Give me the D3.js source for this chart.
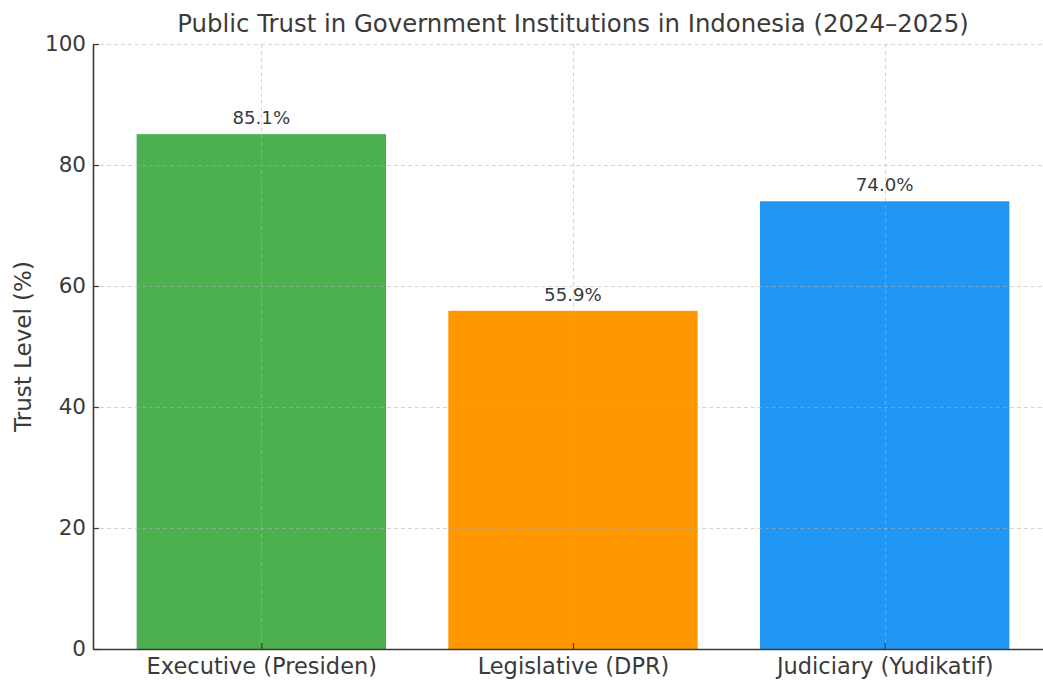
<!DOCTYPE html>
<html>
<head>
<meta charset="utf-8">
<script src="https://cdn.jsdelivr.net/npm/d3@7"></script>
<style>
  html, body { margin: 0; padding: 0; background: #fff; }
  svg { display: block; font-family: "DejaVu Sans", sans-serif; }
</style>
</head>
<body>
<svg id="chart" width="1043" height="680"></svg>
<script>
// Trust levels by branch of government
const categories = ["Executive (Presiden)", "Legislative (DPR)", "Judiciary (Yudikatif)"];
const trustValues = [85.1, 55.9, 74.0];
const barColors = ["#4caf50", "#ff9800", "#2196f3"];
const yTicks = [0, 20, 40, 60, 80, 100];

const svg = d3.select("#chart");
const plotLeft = 93, plotRight = 1053, plotTop = 44, plotBottom = 649;
const textColor = "#3a3a3a";
const axisColor = "#3a3a3a";

// Category positions 0..n-1, bars 0.8 wide with 5% padding each side
const x = d3.scaleLinear().domain([-0.54, categories.length - 1 + 0.54]).range([plotLeft, plotRight]);
const y = d3.scaleLinear().domain([0, 100]).range([plotBottom, plotTop]);
const barW = x(0.8) - x(0);

// Bars
svg.append("g").selectAll("rect")
  .data(trustValues)
  .join("rect")
  .attr("x", (d, i) => x(i) - barW / 2)
  .attr("y", d => y(d))
  .attr("width", barW)
  .attr("height", d => y(0) - y(d))
  .attr("fill", (d, i) => barColors[i]);

// Dashed grid over the bars
const grid = svg.append("g")
  .attr("stroke", "#b0b0b0")
  .attr("stroke-opacity", 0.55)
  .attr("stroke-width", 1)
  .attr("stroke-dasharray", "4,3");
grid.selectAll("line.h")
  .data(yTicks.filter(t => t > 0))
  .join("line")
  .attr("class", "h")
  .attr("x1", plotLeft).attr("x2", plotRight)
  .attr("y1", d => y(d) + 0.5).attr("y2", d => y(d) + 0.5);
grid.selectAll("line.v")
  .data(categories.map((c, i) => i))
  .join("line")
  .attr("class", "v")
  .attr("x1", d => Math.round(x(d)) + 0.5).attr("x2", d => Math.round(x(d)) + 0.5)
  .attr("y1", plotTop).attr("y2", plotBottom);

// Y axis
const yAxis = svg.append("g")
  .attr("transform", `translate(${plotLeft},0)`)
  .call(d3.axisLeft(y).tickValues(yTicks).tickSizeInner(-6).tickSizeOuter(0).tickPadding(7));
yAxis.select(".domain").attr("stroke", axisColor).attr("stroke-width", 1.6);
yAxis.selectAll(".tick line").attr("stroke", axisColor).attr("stroke-width", 1.2);
yAxis.selectAll(".tick text")
  .attr("font-size", 21.5).attr("fill", textColor)
  .attr("font-family", "DejaVu Sans, sans-serif");

// X axis
const xAxis = svg.append("g")
  .attr("transform", `translate(0,${plotBottom})`)
  .call(d3.axisBottom(x).tickValues(categories.map((c, i) => i))
    .tickFormat(i => categories[i]).tickSizeInner(-6).tickSizeOuter(0).tickPadding(9));
xAxis.select(".domain").attr("stroke", axisColor).attr("stroke-width", 1.6);
xAxis.selectAll(".tick line").attr("stroke", axisColor).attr("stroke-width", 1.2);
xAxis.selectAll(".tick text")
  .attr("font-size", 22.5).attr("fill", textColor)
  .attr("font-family", "DejaVu Sans, sans-serif");

// Value labels
svg.append("g").selectAll("text")
  .data(trustValues)
  .join("text")
  .attr("x", (d, i) => x(i))
  .attr("y", d => y(d) - 10)
  .attr("text-anchor", "middle")
  .attr("font-size", 18.2)
  .attr("fill", textColor)
  .text(d => d.toFixed(1) + "%");

// Title
svg.append("text")
  .attr("x", (plotLeft + plotRight) / 2)
  .attr("y", 32)
  .attr("text-anchor", "middle")
  .attr("font-size", 24.4)
  .attr("fill", textColor)
  .text("Public Trust in Government Institutions in Indonesia (2024\u20132025)");

// Y axis title
svg.append("text")
  .attr("transform", `translate(31,${(plotTop + plotBottom) / 2}) rotate(-90)`)
  .attr("text-anchor", "middle")
  .attr("font-size", 23)
  .attr("fill", textColor)
  .text("Trust Level (%)");
</script>
</body>
</html>
